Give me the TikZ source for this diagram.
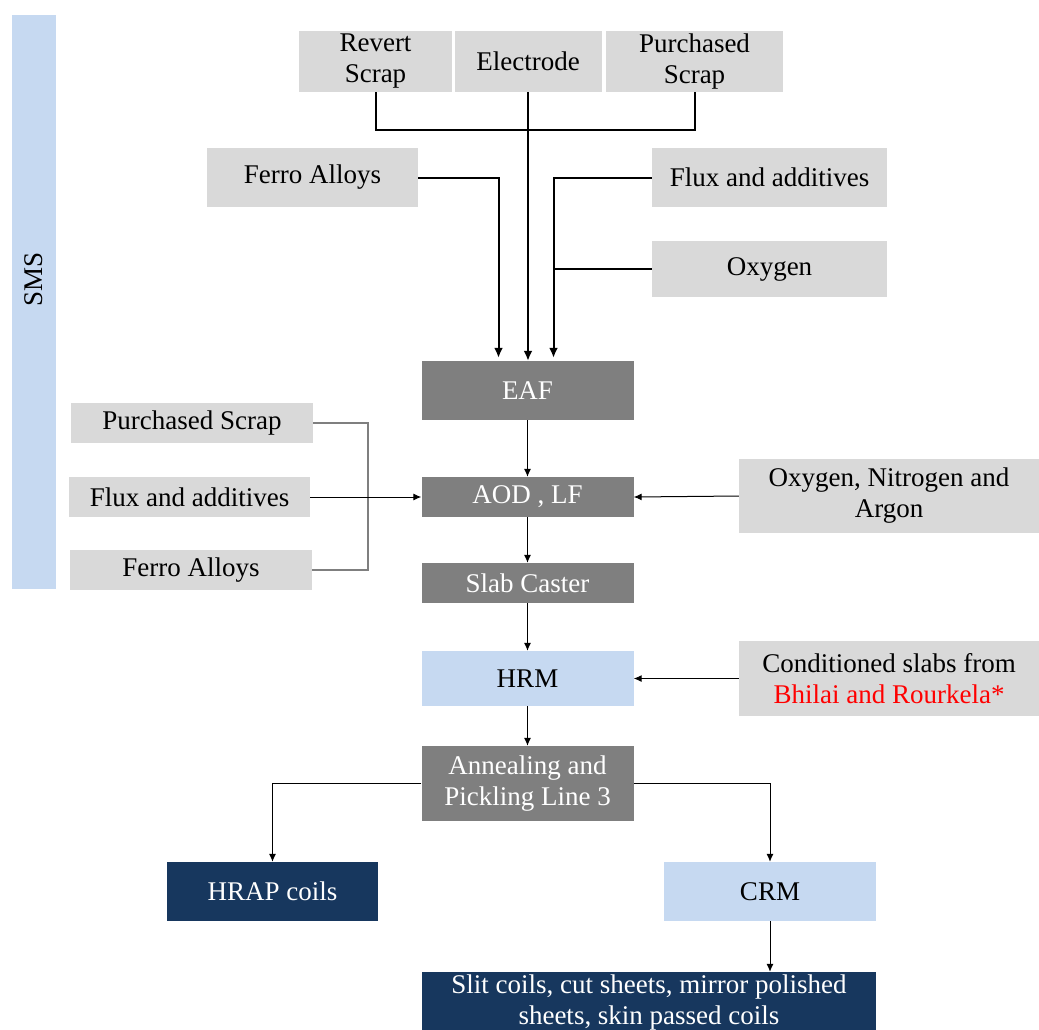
\documentclass[tikz,border=0pt]{standalone}
\usepackage{fontspec}
\setmainfont{Liberation Serif}
\usetikzlibrary{arrows.meta}
\definecolor{boxgray}{HTML}{D9D9D9}
\definecolor{darkbox}{HTML}{7F7F7F}
\definecolor{lightblue}{HTML}{C6D9F1}
\definecolor{navy}{HTML}{17375E}
\definecolor{brgray}{HTML}{7F7F7F}
\tikzset{
  base/.style={rectangle, inner sep=0pt, align=center, font=\fontsize{27}{31}\selectfont},
  graybox/.style={base, fill=boxgray, text=black},
  darkgray/.style={base, fill=darkbox, text=white},
  bluebox/.style={base, fill=lightblue, text=black},
  navybox/.style={base, fill=navy, text=white},
  thickarrow/.style={line width=2pt, -{Latex[length=10pt,width=9pt]}},
  thickline/.style={line width=2pt},
  thinarrow/.style={line width=1pt, -{Latex[length=8pt,width=7pt]}},
  bracketline/.style={line width=1.2pt, draw=brgray},
}
\begin{document}
\begin{tikzpicture}[x=1pt,y=-1pt]
\useasboundingbox (0,0) rectangle (1039,1029);
% SMS bar
\fill[lightblue] (12,15) rectangle (56,589);
\node[base, rotate=90] (sms) at (34,279) {SMS};
% top boxes
\node[graybox, minimum width=153, minimum height=61] (rev) at (375.5,61.5) {Revert\\Scrap};
\node[graybox, minimum width=147, minimum height=61] (ele) at (528,61.5) {Electrode};
\node[graybox, minimum width=177, minimum height=61] (pur1) at (694.5,61.5) {Purchased\\Scrap};
\node[graybox, minimum width=211, minimum height=59] (ferro1) at (312.5,177.5) {Ferro Alloys};
\node[graybox, minimum width=235, minimum height=59] (flux1) at (769.5,177.5) {Flux and additives};
\node[graybox, minimum width=235, minimum height=56] (oxy) at (769.5,269) {Oxygen};
% central column
\node[darkgray, minimum width=212, minimum height=59] (eaf) at (527.5,390.5) {EAF};
\node[darkgray, minimum width=212, minimum height=40] (aod) at (527.5,497) {AOD , LF};
\node[darkgray, minimum width=212, minimum height=40] (slab) at (527.5,583) {Slab Caster};
\node[bluebox, minimum width=212, minimum height=55] (hrm) at (527.5,678.5) {HRM};
\node[darkgray, minimum width=212, minimum height=75] (ann) at (527.5,783.5) {Annealing and\\Pickling Line 3};
% left boxes
\node[graybox, minimum width=242, minimum height=40] (pur2) at (192,423) {Purchased Scrap};
\node[graybox, minimum width=241, minimum height=40] (flux2) at (189.5,497) {Flux and additives};
\node[graybox, minimum width=242, minimum height=40] (ferro2) at (191,570) {Ferro Alloys};
% right boxes
\node[graybox, minimum width=300, minimum height=74] (ona) at (889,496) {Oxygen, Nitrogen and\\Argon};
\node[graybox, minimum width=300, minimum height=75] (cond) at (889,678.5) {Conditioned slabs from\\\textcolor{red}{Bhilai and Rourkela*}};
% outputs
\node[navybox, minimum width=211, minimum height=59] (hrap) at (272.5,891.5) {HRAP coils};
\node[bluebox, minimum width=212, minimum height=59] (crm) at (770,891.5) {CRM};
\node[navybox, minimum width=454, minimum height=61] (slit) at (649,1002.5) {Slit coils, cut sheets, mirror polished\\sheets, skin passed coils};
% top connectors
\draw[thickline] (rev.south) -- ([yshift=-38pt]rev.south) -| (pur1.south);
\draw[thickarrow] (ele.south) -- (ele.south |- eaf.north);
\coordinate (fin) at ([xshift=-29pt, yshift=3pt]eaf.north);
\coordinate (xin) at ([xshift=26pt, yshift=3pt]eaf.north);
\draw[thickarrow] (ferro1.east) -| (fin);
\draw[thickarrow] (flux1.west) -| (xin);
\draw[thickline] (oxy.west) -- (oxy.west -| xin);
% middle connectors
\draw[thinarrow] (eaf.south) -- (aod.north);
\draw[bracketline] (pur2.east) -- (368,423) |- (ferro2.east);
\draw[thinarrow] (flux2.east) -- (aod.west);
\draw[thinarrow] (ona.west) -- (aod.east);
\draw[thinarrow] (aod.south) -- (slab.north);
\draw[thinarrow] (slab.south) -- (hrm.north);
\draw[thinarrow] (cond.west) -- (hrm.east);
\draw[thinarrow] (hrm.south) -- (ann.north);
\draw[thinarrow] (ann.west) -| (hrap.north);
\draw[thinarrow] (ann.east) -| (crm.north);
\draw[thinarrow] (crm.south) -- (crm.south |- slit.north);
\end{tikzpicture}
\end{document}
